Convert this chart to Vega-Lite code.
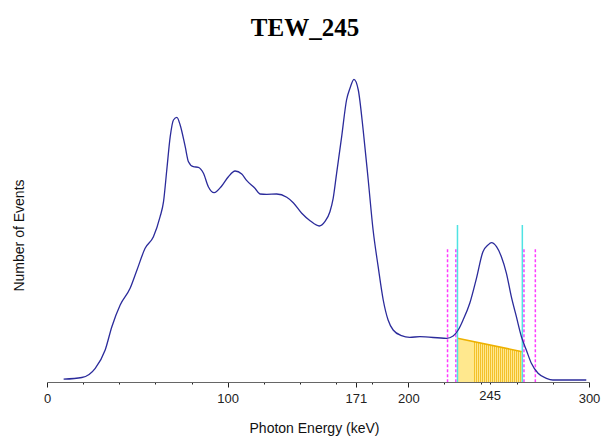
{
  "$schema": "https://vega.github.io/schema/vega-lite/v6.json",
  "autosize": "none",
  "padding": {"left": 47, "top": 62, "right": 19, "bottom": 57},
  "width": 542,
  "height": 320,
  "background": "white",
  "title": {
    "text": "TEW_245",
    "font": "Liberation Serif",
    "fontSize": 25,
    "fontWeight": "bold",
    "color": "#000000",
    "anchor": "middle",
    "baseline": "alphabetic",
    "offset": 1,
    "dx": -13
  },
  "config": {
    "view": {"stroke": null},
    "axis": {"labelFont": "Liberation Sans", "titleFont": "Liberation Sans", "titleFontWeight": "normal"}
  },
  "datasets": {
    "spectrum": [
      {"e": 9.2, "v": 2.8}, {"e": 19.3, "v": 4.5}, {"e": 26.7, "v": 13.7}, {"e": 32.2, "v": 32},
      {"e": 35.9, "v": 55.3}, {"e": 40.5, "v": 77}, {"e": 46.0, "v": 93.7}, {"e": 49.8, "v": 112},
      {"e": 54.3, "v": 133.7}, {"e": 58.9, "v": 145.3}, {"e": 62.6, "v": 165.3}, {"e": 64.5, "v": 180.3},
      {"e": 66.3, "v": 212}, {"e": 68.2, "v": 245.3}, {"e": 70.0, "v": 262}, {"e": 71.9, "v": 264.7},
      {"e": 73.7, "v": 257}, {"e": 76.5, "v": 235.3}, {"e": 78.3, "v": 220.3}, {"e": 81.0, "v": 215.3},
      {"e": 83.8, "v": 214.7}, {"e": 86.6, "v": 208.7}, {"e": 89.3, "v": 195.3}, {"e": 92.5, "v": 189.3},
      {"e": 96.7, "v": 196}, {"e": 100.4, "v": 205.3}, {"e": 104.1, "v": 211}, {"e": 107.8, "v": 208},
      {"e": 110.6, "v": 201.3}, {"e": 115.1, "v": 193.7}, {"e": 117.9, "v": 188}, {"e": 121.6, "v": 187.7},
      {"e": 127.1, "v": 188}, {"e": 132.7, "v": 184.7}, {"e": 136.3, "v": 179.3}, {"e": 141.0, "v": 168.7},
      {"e": 145.6, "v": 161.3}, {"e": 150.7, "v": 156}, {"e": 153.8, "v": 160.3}, {"e": 156.6, "v": 170.3},
      {"e": 158.4, "v": 183.7}, {"e": 160.3, "v": 208.7}, {"e": 163.1, "v": 245.3}, {"e": 165.8, "v": 282},
      {"e": 167.7, "v": 293.7}, {"e": 169.9, "v": 302.7}, {"e": 172.3, "v": 292}, {"e": 175.0, "v": 252},
      {"e": 177.8, "v": 202}, {"e": 180.5, "v": 152}, {"e": 183.3, "v": 115.3}, {"e": 186.1, "v": 82},
      {"e": 188.8, "v": 62}, {"e": 191.6, "v": 52}, {"e": 196.2, "v": 46.3}, {"e": 200.8, "v": 44.7},
      {"e": 206.4, "v": 45.3}, {"e": 221.1, "v": 43.7}, {"e": 224.8, "v": 46}, {"e": 227.6, "v": 52},
      {"e": 230.3, "v": 62}, {"e": 234.0, "v": 78.7}, {"e": 237.7, "v": 103.7}, {"e": 241.3, "v": 130.3},
      {"e": 244.1, "v": 137}, {"e": 246.0, "v": 139.3}, {"e": 248.8, "v": 135.3}, {"e": 251.5, "v": 125.3},
      {"e": 254.3, "v": 108.7}, {"e": 257.0, "v": 85.3}, {"e": 259.8, "v": 65.3}, {"e": 262.6, "v": 45.3},
      {"e": 265.3, "v": 32}, {"e": 268.1, "v": 18.7}, {"e": 271.8, "v": 8.7}, {"e": 276.4, "v": 3.7},
      {"e": 280.0, "v": 2}, {"e": 298.5, "v": 2}
    ],
    "background": [
      {"e": 227.2, "v": 43.7},
      {"e": 263.1, "v": 30.3}
    ],
    "markers": [
      {"e": 221.7, "v": 132.7, "kind": "limit"},
      {"e": 226.3, "v": 132.7, "kind": "limit"},
      {"e": 264.0, "v": 132.7, "kind": "limit"},
      {"e": 270.3, "v": 132.7, "kind": "limit"},
      {"e": 227.2, "v": 157, "kind": "roi"},
      {"e": 263.1, "v": 157, "kind": "roi"}
    ]
  },
  "encoding": {
    "x": {
      "field": "e",
      "type": "quantitative",
      "scale": {"domain": [0, 300], "nice": false, "zero": false},
      "axis": {
        "title": "Photon Energy (keV)",
        "titleFontSize": 14,
        "titleColor": "#111111",
        "titleBaseline": "alphabetic",
        "titleX": 267,
        "titleY": 50,
        "values": [0, 20, 40, 60, 80, 100, 120, 140, 160, 171, 180, 200, 220, 240, 245, 260, 280, 300],
        "format": "d",
        "labelExpr": "indexof([0, 100, 171, 200, 245, 300], datum.value) >= 0 ? datum.label : ''",
        "labelOverlap": false,
        "labelFlush": false,
        "labelFontSize": 13,
        "labelColor": "#222222",
        "labelPadding": 5,
        "grid": false,
        "domainColor": "#666666",
        "domainWidth": 1,
        "tickColor": "#222222",
        "tickWidth": 1,
        "tickSize": {"condition": {"test": "indexof([0, 100, 171, 200, 300], datum.value) >= 0", "value": 5}, "value": 2}
      }
    },
    "y": {
      "field": "v",
      "type": "quantitative",
      "scale": {"domain": [0, 320], "nice": false},
      "axis": {
        "title": "Number of Events",
        "titleFontSize": 14,
        "titleColor": "#111111",
        "titleAngle": 270,
        "titleAlign": "center",
        "titleBaseline": "middle",
        "titleX": -28,
        "titleY": 173,
        "domain": false,
        "ticks": false,
        "labels": false,
        "grid": false
      }
    }
  },
  "layer": [
    {
      "data": {"name": "background"},
      "mark": {
        "type": "area",
        "fill": {
          "gradient": "linear", "x1": 0, "x2": 1, "y1": 0, "y2": 0,
          "stops": [
            {"offset": 0, "color": "#F3C12A"}, {"offset": 0.012, "color": "#F3C12A"}, {"offset": 0.012, "color": "#FFE88E"}, {"offset": 0.03125, "color": "#FFE88E"},
            {"offset": 0.03125, "color": "#F3C12A"}, {"offset": 0.04375, "color": "#F3C12A"}, {"offset": 0.04375, "color": "#FFE88E"}, {"offset": 0.0625, "color": "#FFE88E"},
            {"offset": 0.0625, "color": "#F3C12A"}, {"offset": 0.075, "color": "#F3C12A"}, {"offset": 0.075, "color": "#FFE88E"}, {"offset": 0.09375, "color": "#FFE88E"},
            {"offset": 0.09375, "color": "#F3C12A"}, {"offset": 0.10625, "color": "#F3C12A"}, {"offset": 0.10625, "color": "#FFE88E"}, {"offset": 0.125, "color": "#FFE88E"},
            {"offset": 0.125, "color": "#F3C12A"}, {"offset": 0.1375, "color": "#F3C12A"}, {"offset": 0.1375, "color": "#FFE88E"}, {"offset": 0.15625, "color": "#FFE88E"},
            {"offset": 0.15625, "color": "#F3C12A"}, {"offset": 0.16875, "color": "#F3C12A"}, {"offset": 0.16875, "color": "#FFE88E"}, {"offset": 0.1875, "color": "#FFE88E"},
            {"offset": 0.1875, "color": "#F3C12A"}, {"offset": 0.2, "color": "#F3C12A"}, {"offset": 0.2, "color": "#FFE88E"}, {"offset": 0.21875, "color": "#FFE88E"},
            {"offset": 0.21875, "color": "#F3C12A"}, {"offset": 0.23125, "color": "#F3C12A"}, {"offset": 0.23125, "color": "#FFE88E"}, {"offset": 0.25, "color": "#FFE88E"},
            {"offset": 0.25, "color": "#F3C12A"}, {"offset": 0.2625, "color": "#F3C12A"}, {"offset": 0.2625, "color": "#FFE88E"}, {"offset": 0.28125, "color": "#FFE88E"},
            {"offset": 0.28125, "color": "#F3C12A"}, {"offset": 0.29375, "color": "#F3C12A"}, {"offset": 0.29375, "color": "#FFE88E"}, {"offset": 0.3125, "color": "#FFE88E"},
            {"offset": 0.3125, "color": "#F3C12A"}, {"offset": 0.325, "color": "#F3C12A"}, {"offset": 0.325, "color": "#FFE88E"}, {"offset": 0.34375, "color": "#FFE88E"},
            {"offset": 0.34375, "color": "#F3C12A"}, {"offset": 0.35625, "color": "#F3C12A"}, {"offset": 0.35625, "color": "#FFE88E"}, {"offset": 0.375, "color": "#FFE88E"},
            {"offset": 0.375, "color": "#F3C12A"}, {"offset": 0.3875, "color": "#F3C12A"}, {"offset": 0.3875, "color": "#FFE88E"}, {"offset": 0.40625, "color": "#FFE88E"},
            {"offset": 0.40625, "color": "#F3C12A"}, {"offset": 0.41875, "color": "#F3C12A"}, {"offset": 0.41875, "color": "#FFE88E"}, {"offset": 0.4375, "color": "#FFE88E"},
            {"offset": 0.4375, "color": "#F3C12A"}, {"offset": 0.45, "color": "#F3C12A"}, {"offset": 0.45, "color": "#FFE88E"}, {"offset": 0.46875, "color": "#FFE88E"},
            {"offset": 0.46875, "color": "#F3C12A"}, {"offset": 0.48125, "color": "#F3C12A"}, {"offset": 0.48125, "color": "#FFE88E"}, {"offset": 0.5, "color": "#FFE88E"},
            {"offset": 0.5, "color": "#F3C12A"}, {"offset": 0.5125, "color": "#F3C12A"}, {"offset": 0.5125, "color": "#FFE88E"}, {"offset": 0.53125, "color": "#FFE88E"},
            {"offset": 0.53125, "color": "#F3C12A"}, {"offset": 0.54375, "color": "#F3C12A"}, {"offset": 0.54375, "color": "#FFE88E"}, {"offset": 0.5625, "color": "#FFE88E"},
            {"offset": 0.5625, "color": "#F3C12A"}, {"offset": 0.575, "color": "#F3C12A"}, {"offset": 0.575, "color": "#FFE88E"}, {"offset": 0.59375, "color": "#FFE88E"},
            {"offset": 0.59375, "color": "#F3C12A"}, {"offset": 0.60625, "color": "#F3C12A"}, {"offset": 0.60625, "color": "#FFE88E"}, {"offset": 0.625, "color": "#FFE88E"},
            {"offset": 0.625, "color": "#F3C12A"}, {"offset": 0.6375, "color": "#F3C12A"}, {"offset": 0.6375, "color": "#FFE88E"}, {"offset": 0.65625, "color": "#FFE88E"},
            {"offset": 0.65625, "color": "#F3C12A"}, {"offset": 0.66875, "color": "#F3C12A"}, {"offset": 0.66875, "color": "#FFE88E"}, {"offset": 0.6875, "color": "#FFE88E"},
            {"offset": 0.6875, "color": "#F3C12A"}, {"offset": 0.7, "color": "#F3C12A"}, {"offset": 0.7, "color": "#FFE88E"}, {"offset": 0.71875, "color": "#FFE88E"},
            {"offset": 0.71875, "color": "#F3C12A"}, {"offset": 0.73125, "color": "#F3C12A"}, {"offset": 0.73125, "color": "#FFE88E"}, {"offset": 0.75, "color": "#FFE88E"},
            {"offset": 0.75, "color": "#F3C12A"}, {"offset": 0.7625, "color": "#F3C12A"}, {"offset": 0.7625, "color": "#FFE88E"}, {"offset": 0.78125, "color": "#FFE88E"},
            {"offset": 0.78125, "color": "#F3C12A"}, {"offset": 0.79375, "color": "#F3C12A"}, {"offset": 0.79375, "color": "#FFE88E"}, {"offset": 0.8125, "color": "#FFE88E"},
            {"offset": 0.8125, "color": "#F3C12A"}, {"offset": 0.825, "color": "#F3C12A"}, {"offset": 0.825, "color": "#FFE88E"}, {"offset": 0.84375, "color": "#FFE88E"},
            {"offset": 0.84375, "color": "#F3C12A"}, {"offset": 0.85625, "color": "#F3C12A"}, {"offset": 0.85625, "color": "#FFE88E"}, {"offset": 0.875, "color": "#FFE88E"},
            {"offset": 0.875, "color": "#F3C12A"}, {"offset": 0.8875, "color": "#F3C12A"}, {"offset": 0.8875, "color": "#FFE88E"}, {"offset": 0.90625, "color": "#FFE88E"},
            {"offset": 0.90625, "color": "#F3C12A"}, {"offset": 0.91875, "color": "#F3C12A"}, {"offset": 0.91875, "color": "#FFE88E"}, {"offset": 0.9375, "color": "#FFE88E"},
            {"offset": 0.9375, "color": "#F3C12A"}, {"offset": 0.95, "color": "#F3C12A"}, {"offset": 0.95, "color": "#FFE88E"}, {"offset": 0.96875, "color": "#FFE88E"},
            {"offset": 0.96875, "color": "#F3C12A"}, {"offset": 0.98125, "color": "#F3C12A"}, {"offset": 0.98125, "color": "#FFE88E"}, {"offset": 1, "color": "#FFE88E"}
          ]
        }
      }
    },
    {
      "data": {"name": "background"},
      "mark": {"type": "line", "color": "#EDB100", "strokeWidth": 1.6}
    },
    {
      "data": {"name": "markers"},
      "mark": {"type": "rule", "strokeWidth": 1.5},
      "encoding": {
        "y2": {"datum": 0},
        "color": {
          "field": "kind",
          "type": "nominal",
          "scale": {"domain": ["limit", "roi"], "range": ["#FF3CFF", "#4FE3E3"]},
          "legend": null
        },
        "strokeDash": {
          "field": "kind",
          "type": "nominal",
          "scale": {"domain": ["limit", "roi"], "range": [[3, 2], [1, 0]]},
          "legend": null
        }
      }
    },
    {
      "data": {"name": "spectrum"},
      "mark": {"type": "line", "color": "#2B2B9B", "strokeWidth": 1.3, "interpolate": "monotone"}
    }
  ]
}
